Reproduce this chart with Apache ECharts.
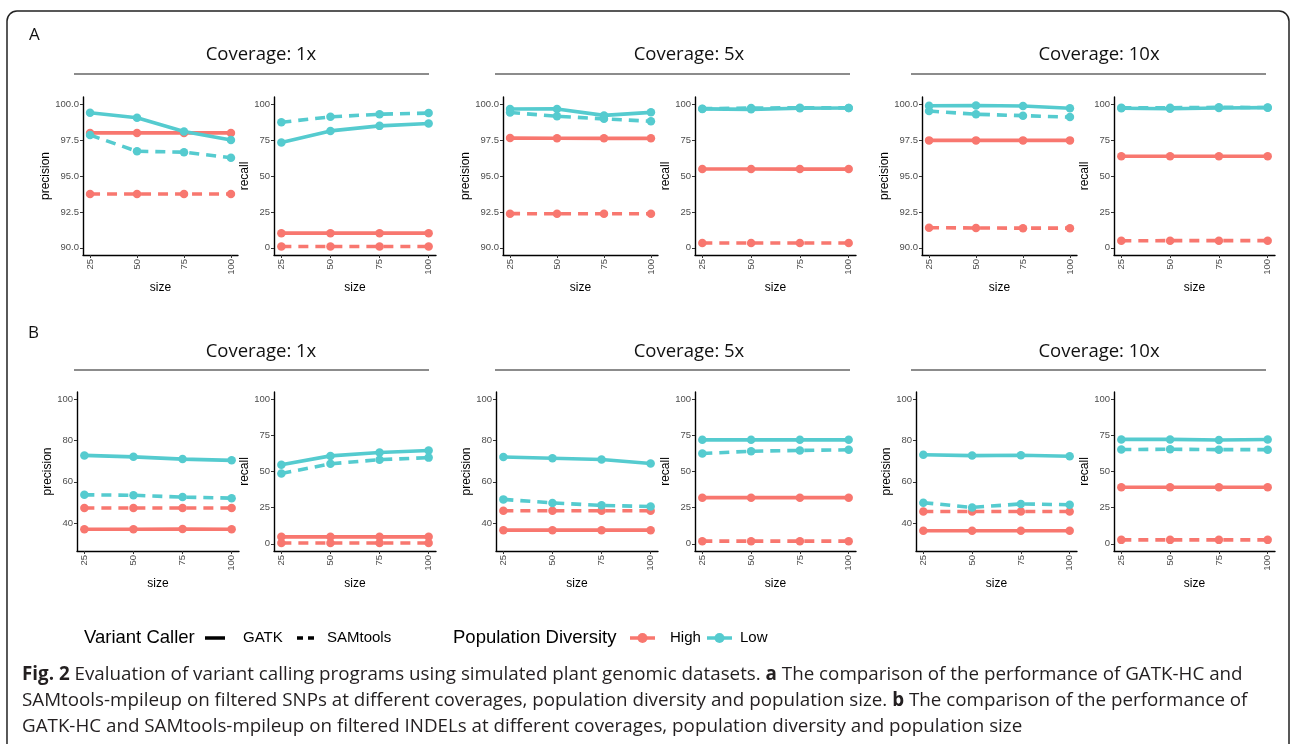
<!DOCTYPE html>
<html>
<head>
<meta charset="utf-8">
<title>Fig. 2</title>
<script src="https://cdn.jsdelivr.net/npm/echarts@6/dist/echarts.min.js"></script>
<style>
  html, body { margin: 0; padding: 0; background: #fff; }
  #main { width: 1292px; height: 744px; }
</style>
</head>
<body>
<div id="main"></div>
<script>
(function () {
  // x values (population size)
  var sizes = [25, 50, 75, 100];
  var coverages = ['Coverage: 1x', 'Coverage: 5x', 'Coverage: 10x'];

  // every panel: rows = GATK-High, GATK-Low, SAMtools-High, SAMtools-Low
  // A: SNPs
  var snpPrecision1x = [[98.0, 98.0, 98.0, 98.0], [99.4, 99.05, 98.1, 97.5], [93.75, 93.75, 93.75, 93.75], [97.85, 96.72, 96.66, 96.27]];
  var snpRecall1x    = [[10.2, 10.2, 10.2, 10.2], [73.3, 81.4, 84.9, 86.6], [0.9, 0.9, 0.9, 0.9], [87.4, 91.2, 93.0, 93.8]];
  var snpPrecision5x = [[97.64, 97.63, 97.62, 97.62], [99.66, 99.67, 99.22, 99.43], [92.38, 92.37, 92.37, 92.37], [99.42, 99.16, 98.98, 98.81]];
  var snpRecall5x    = [[54.9, 54.9, 54.8, 54.8], [96.7, 96.4, 97.2, 97.3], [3.4, 3.4, 3.4, 3.4], [96.9, 97.3, 97.5, 97.4]];
  var snpPrecision10x = [[97.48, 97.48, 97.48, 97.48], [99.89, 99.91, 99.87, 99.72], [91.40, 91.38, 91.37, 91.37], [99.52, 99.30, 99.20, 99.10]];
  var snpRecall10x    = [[63.8, 63.8, 63.8, 63.8], [97.2, 96.8, 97.3, 97.6], [4.9, 5.0, 5.0, 5.0], [97.5, 97.5, 97.8, 97.7]];
  // B: INDELs
  var indelPrecision1x = [[37.0, 37.0, 37.1, 37.0], [72.8, 72.1, 71.0, 70.4], [47.3, 47.3, 47.3, 47.3], [53.7, 53.5, 52.6, 52.1]];
  var indelRecall1x    = [[4.8, 4.8, 4.8, 4.8], [54.7, 60.8, 63.1, 64.5], [0.5, 0.5, 0.5, 0.5], [48.6, 55.3, 58.2, 59.6]];
  var indelPrecision5x = [[36.6, 36.6, 36.6, 36.6], [72.0, 71.4, 70.8, 68.9], [46.0, 46.0, 46.0, 46.0], [51.5, 49.8, 48.6, 48.0]];
  var indelRecall5x    = [[31.9, 31.9, 31.9, 31.9], [71.9, 71.9, 71.9, 71.9], [1.8, 1.8, 1.8, 1.8], [62.5, 64.0, 64.6, 65.0]];
  var indelPrecision10x = [[36.3, 36.3, 36.3, 36.3], [73.1, 72.7, 72.9, 72.4], [45.6, 45.6, 45.6, 45.6], [49.9, 47.6, 49.3, 48.9]];
  var indelRecall10x    = [[39.1, 39.1, 39.1, 39.1], [72.2, 72.2, 71.8, 72.1], [2.7, 2.7, 2.7, 2.7], [65.2, 65.4, 65.1, 65.1]];

  // tick labels
  var snpPrecisionTicks = [90, 92.5, 95, 97.5, 100];
  var indelPrecisionTicks = [40, 60, 80, 100];
  var recallTicks = [0, 25, 50, 75, 100];

  var lineNames = [['GATK', 'High'], ['GATK', 'Low'], ['SAMtools', 'High'], ['SAMtools', 'Low']];

  var HIGH = '#F8776F';
  var LOW = '#55CBCF';
  var tickFont = 'Liberation Sans, Arial, sans-serif';
  var textFont = 'Open Sans, Lato, sans-serif';

  var myChart = echarts.init(document.getElementById('main'), null, { renderer: 'canvas' });

  // grid boxes (left, right) per row
  var rowA = { top: 97, bottom: 255, cols: [[83, 238], [274, 436], [503, 658], [695, 856], [922, 1077], [1114, 1275]] };
  var rowB = { top: 392, bottom: 551, cols: [[77, 239], [274, 436], [496, 658], [695, 856], [916, 1077], [1114, 1275]] };

  var panels = [
    { row: rowA, col: 0, vals: snpPrecision1x, name: 'precision', ticks: snpPrecisionTicks, min: 89.5, max: 100.5, dec: 1, gap: 27 },
    { row: rowA, col: 1, vals: snpRecall1x, name: 'recall', ticks: recallTicks, min: -5, max: 105, dec: 0, gap: 20 },
    { row: rowA, col: 2, vals: snpPrecision5x, name: 'precision', ticks: snpPrecisionTicks, min: 89.5, max: 100.5, dec: 1, gap: 27 },
    { row: rowA, col: 3, vals: snpRecall5x, name: 'recall', ticks: recallTicks, min: -5, max: 105, dec: 0, gap: 20 },
    { row: rowA, col: 4, vals: snpPrecision10x, name: 'precision', ticks: snpPrecisionTicks, min: 89.5, max: 100.5, dec: 1, gap: 27 },
    { row: rowA, col: 5, vals: snpRecall10x, name: 'recall', ticks: recallTicks, min: -5, max: 105, dec: 0, gap: 20 },
    { row: rowB, col: 0, vals: indelPrecision1x, name: 'precision', ticks: indelPrecisionTicks, min: 26.5, max: 103.5, dec: 0, gap: 21 },
    { row: rowB, col: 1, vals: indelRecall1x, name: 'recall', ticks: recallTicks, min: -5, max: 105, dec: 0, gap: 20 },
    { row: rowB, col: 2, vals: indelPrecision5x, name: 'precision', ticks: indelPrecisionTicks, min: 26.5, max: 103.5, dec: 0, gap: 21 },
    { row: rowB, col: 3, vals: indelRecall5x, name: 'recall', ticks: recallTicks, min: -5, max: 105, dec: 0, gap: 20 },
    { row: rowB, col: 4, vals: indelPrecision10x, name: 'precision', ticks: indelPrecisionTicks, min: 26.5, max: 103.5, dec: 0, gap: 21 },
    { row: rowB, col: 5, vals: indelRecall10x, name: 'recall', ticks: recallTicks, min: -5, max: 105, dec: 0, gap: 20 }
  ];

  var grid = [], xAxis = [], yAxis = [], series = [];

  panels.forEach(function (p, i) {
    var c = p.row.cols[p.col];
    grid.push({ left: c[0], top: p.row.top, width: c[1] - c[0], height: p.row.bottom - p.row.top });

    xAxis.push({
      type: 'value', gridIndex: i, min: 21.25, max: 103.75,
      name: 'size', nameLocation: 'middle', nameGap: 27,
      nameTextStyle: { fontFamily: tickFont, fontSize: 12, color: '#000' },
      axisLine: { show: true, onZero: false, lineStyle: { color: '#000', width: 1.4 } },
      axisTick: { show: true, length: 3, customValues: sizes, lineStyle: { color: '#333' } },
      axisLabel: { customValues: sizes, rotate: 90, margin: 4, fontFamily: tickFont, fontSize: 9.5, color: '#4d4d4d' },
      splitLine: { show: false }
    });

    yAxis.push({
      type: 'value', gridIndex: i, min: p.min, max: p.max,
      name: p.name, nameLocation: 'middle', nameGap: p.gap, nameRotate: 90,
      nameTextStyle: { fontFamily: tickFont, fontSize: 12, color: '#000' },
      axisLine: { show: true, onZero: false, lineStyle: { color: '#000', width: 1.4 } },
      axisTick: { show: true, length: 3, customValues: p.ticks, lineStyle: { color: '#333' } },
      axisLabel: {
        customValues: p.ticks, margin: 4, fontFamily: tickFont, fontSize: 9.5, color: '#4d4d4d',
        formatter: function (v) { return Number(v).toFixed(p.dec); }
      },
      splitLine: { show: false }
    });

    p.vals.forEach(function (ys, k) {
      var col = lineNames[k][1] === 'High' ? HIGH : LOW;
      series.push({
        name: lineNames[k].join(' - '),
        type: 'line', xAxisIndex: i, yAxisIndex: i,
        data: sizes.map(function (s, j) { return [s, ys[j]]; }),
        symbol: 'circle', symbolSize: 8.5, showSymbol: true,
        lineStyle: { color: col, width: 3.6, type: lineNames[k][0] === 'SAMtools' ? [10, 7] : 'solid' },
        itemStyle: { color: col },
        silent: true
      });
    });
  });

  // strip titles and panel letters
  var graphic = [
    { type: 'rect', shape: { x: 7, y: 11, width: 1282, height: 800, r: 10 }, style: { fill: 'none', stroke: '#222', lineWidth: 1.5 } },
    { type: 'text', x: 29, y: 35, style: { text: 'A', font: '17px ' + textFont, fill: '#111', verticalAlign: 'middle' } },
    { type: 'text', x: 28, y: 333, style: { text: 'B', font: '17px ' + textFont, fill: '#111', verticalAlign: 'middle' } }
  ];
  var stripCenters = [261, 689, 1099];
  var stripLines = [[74, 429], [495, 850], [911, 1266]];
  [[55, 74], [352, 370]].forEach(function (r) {
    coverages.forEach(function (t, j) {
      graphic.push({ type: 'text', x: stripCenters[j], y: r[0], style: { text: t, font: '18.5px ' + textFont, fill: '#111', align: 'center', verticalAlign: 'middle' } });
      graphic.push({ type: 'line', shape: { x1: stripLines[j][0], y1: r[1], x2: stripLines[j][1], y2: r[1] }, style: { stroke: '#1a1a1a', lineWidth: 1.2 } });
    });
  });

  // legend
  var ly = 638;
  graphic.push(
    { type: 'text', x: 84, y: ly, style: { text: 'Variant Caller', font: '18.5px ' + tickFont, fill: '#000', verticalAlign: 'middle' } },
    { type: 'line', shape: { x1: 205, y1: ly, x2: 225, y2: ly }, style: { stroke: '#000', lineWidth: 3.5 } },
    { type: 'text', x: 243, y: ly, style: { text: 'GATK', font: '15px ' + tickFont, fill: '#000', verticalAlign: 'middle' } },
    { type: 'line', shape: { x1: 297, y1: ly, x2: 318, y2: ly }, style: { stroke: '#000', lineWidth: 3.5, lineDash: [6, 5] } },
    { type: 'text', x: 327, y: ly, style: { text: 'SAMtools', font: '15px ' + tickFont, fill: '#000', verticalAlign: 'middle' } },
    { type: 'text', x: 453, y: ly, style: { text: 'Population Diversity', font: '18.5px ' + tickFont, fill: '#000', verticalAlign: 'middle' } },
    { type: 'line', shape: { x1: 630, y1: ly, x2: 655, y2: ly }, style: { stroke: HIGH, lineWidth: 3.5 } },
    { type: 'circle', shape: { cx: 642.5, cy: ly, r: 5 }, style: { fill: HIGH } },
    { type: 'text', x: 670, y: ly, style: { text: 'High', font: '15px ' + tickFont, fill: '#000', verticalAlign: 'middle' } },
    { type: 'line', shape: { x1: 707, y1: ly, x2: 732, y2: ly }, style: { stroke: LOW, lineWidth: 3.5 } },
    { type: 'circle', shape: { cx: 719.5, cy: ly, r: 5 }, style: { fill: LOW } },
    { type: 'text', x: 740, y: ly, style: { text: 'Low', font: '15px ' + tickFont, fill: '#000', verticalAlign: 'middle' } }
  );

  // caption
  var captionLines = [
    '{b|Fig. 2} Evaluation of variant calling programs using simulated plant genomic datasets. {b|a} The comparison of the performance of GATK-HC and',
    'SAMtools-mpileup on filtered SNPs at different coverages, population diversity and population size. {b|b} The comparison of the performance of',
    'GATK-HC and SAMtools-mpileup on filtered INDELs at different coverages, population diversity and population size'
  ];
  captionLines.forEach(function (t, i) {
    graphic.push({
      type: 'text', x: 22, y: 675 + i * 26,
      style: {
        text: t, font: '18.8px ' + textFont, fill: '#231f20', verticalAlign: 'middle',
        rich: { b: { fontWeight: 'bold', fontFamily: 'Open Sans', fontSize: 18.8, fill: '#231f20' } }
      }
    });
  });

  var option = {
    backgroundColor: '#fff',
    animation: false,
    grid: grid,
    xAxis: xAxis,
    yAxis: yAxis,
    series: series,
    graphic: graphic
  };

  myChart.setOption(option);

  window.addEventListener('resize', function () {
    myChart.resize();
  });
})();
</script>
</body>
</html>
